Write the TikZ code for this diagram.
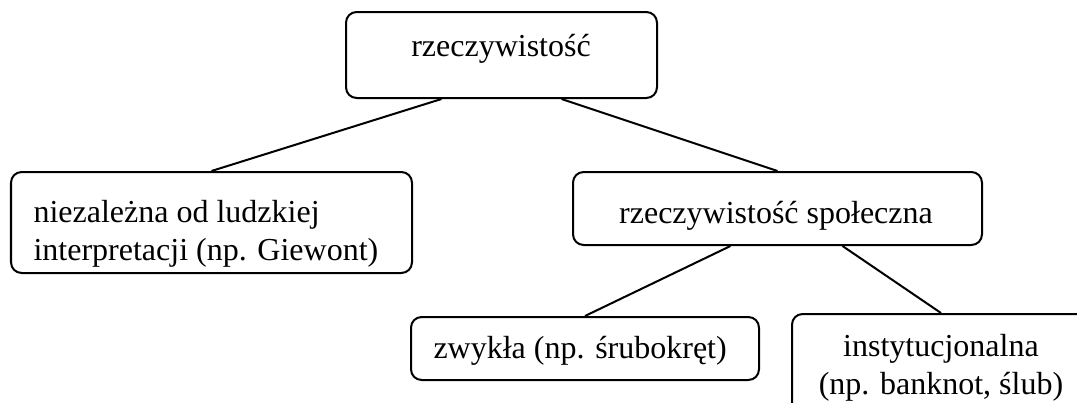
\documentclass[tikz,border=0pt]{standalone}
\usepackage{fontspec}
\setmainfont{Liberation Serif}
\usetikzlibrary{fit,calc}

\tikzset{
  box/.style={draw, line width=0.75pt, rounded corners=4pt, inner sep=0pt},
  txt/.style={font=\fontsize{12}{13.9}\selectfont, inner sep=0pt},
  link/.style={line width=0.75pt},
}

\begin{document}
\begin{tikzpicture}[x=0.375pt, y=-0.375pt]
% 1. obszar rysunku
\useasboundingbox (0,0) rectangle (1077,403);
\clip (0,0) rectangle (1077,403);

% 2. ramki
\node[box, fit={(346,12) (657,98)}] (top) {};
\node[box, fit={(11,172) (412,273)}] (indep) {};
\node[box, fit={(573,172) (982,245)}] (social) {};
\node[box, fit={(411,317) (759,380)}] (plain) {};
\node[box, fit={(792,314) (1090,440)}] (inst) {};

% 3. napisy (przy kilku wierszach: linia bazowa ostatniego)
\node[txt, anchor=base] (topt) at (501,56) {rzeczywistość};
\node[txt, anchor=base west, align=left] (indept) at (33,260)
    {niezależna od ludzkiej\\interpretacji (np. Giewont)};
\node[txt, anchor=base] (socialt) at (776,223) {rzeczywistość społeczna};
\node[txt, anchor=base west] (plaint) at (433,358) {zwykła (np. śrubokręt)};
\node[txt, anchor=base, align=center] (instt) at (941,394)
    {instytucjonalna\\(np. banknot, ślub)};

% 4. linie
\draw[link] ($(top.south)+(-60,0)$) -- (indep.north);
\draw[link] ($(top.south)+(60,0)$) -- (social.north);
\draw[link] ($(social.south)+(-47,0)$) -- (plain.north);
\draw[link] ($(social.south)+(65,0)$) -- (inst.north);
\end{tikzpicture}
\end{document}
